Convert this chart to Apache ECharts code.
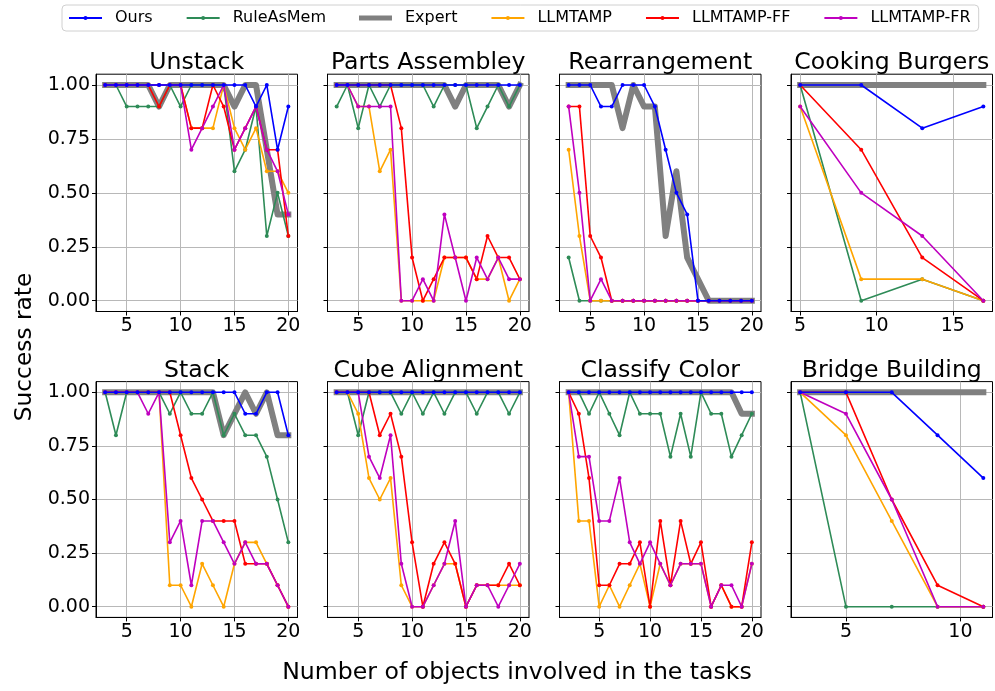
<!DOCTYPE html>
<html><head><meta charset="utf-8">
<script src="https://cdn.jsdelivr.net/npm/echarts@6/dist/echarts.min.js"></script>
<style>html,body{margin:0;padding:0;background:#fff}#c{width:995px;height:691px}</style>
</head><body><div id="c"></div>
<script>
const methodNames = ['Ours', 'RuleAsMem', 'Expert', 'LLMTAMP', 'LLMTAMP-FF', 'LLMTAMP-FR'];
const panelTitles = ['Unstack', 'Parts Assembley', 'Rearrangement', 'Cooking Burgers', 'Stack', 'Cube Alignment', 'Classify Color', 'Bridge Building'];
const yTicks = [0, 0.25, 0.5, 0.75, 1.0];
const xTicksWide = [5, 10, 15, 20];
const xTicksCook = [5, 10, 15];
const xTicksBridge = [5, 10];

// ---- Unstack ----
const xUnstack = [3, 4, 5, 6, 7, 8, 9, 10, 11, 12, 13, 14, 15, 16, 17, 18, 19, 20];
const unstackOurs = [1, 1, 1, 1, 1, 1, 1, 1, 1, 1, 1, 1, 1, 1, 0.9, 1, 0.7, 0.9];
const unstackRule = [1, 1, 0.9, 0.9, 0.9, 0.9, 1, 0.9, 1, 1, 1, 1, 0.6, 0.7, 0.9, 0.3, 0.5, 0.3];
const unstackExpert = [1, 1, 1, 1, 1, 0.9, 1, 1, 1, 1, 1, 1, 0.9, 1, 1, 0.7, 0.4, 0.4];
const unstackLLM = [1, 1, 1, 1, 1, 1, 1, 1, 0.8, 0.8, 0.8, 1, 0.8, 0.7, 0.8, 0.6, 0.6, 0.5];
const unstackFF = [1, 1, 1, 1, 1, 0.9, 1, 1, 0.8, 0.8, 1, 0.9, 0.7, 0.8, 0.9, 0.7, 0.7, 0.3];
const unstackFR = [1, 1, 1, 1, 1, 1, 1, 1, 0.7, 0.8, 0.9, 1, 0.7, 0.8, 0.9, 0.7, 0.6, 0.4];

// ---- Parts Assembley ----
const xParts = [3, 4, 5, 6, 7, 8, 9, 10, 11, 12, 13, 14, 15, 16, 17, 18, 19, 20];
const partsOurs = [1, 1, 1, 1, 1, 1, 1, 1, 1, 1, 1, 1, 1, 1, 1, 1, 1, 1];
const partsRule = [0.9, 1, 0.8, 1, 0.9, 1, 1, 1, 1, 0.9, 1, 1, 1, 0.8, 0.9, 1, 0.9, 1];
const partsExpert = [1, 1, 1, 1, 1, 1, 1, 1, 1, 1, 1, 0.9, 1, 1, 1, 1, 0.9, 1];
const partsLLM = [1, 1, 0.9, 0.9, 0.6, 0.7, 0, 0, 0, 0, 0.2, 0.2, 0.2, 0.1, 0.1, 0.2, 0, 0.1];
const partsFF = [1, 1, 1, 1, 1, 1, 0.8, 0.2, 0, 0.1, 0.2, 0.2, 0.2, 0.1, 0.3, 0.2, 0.2, 0.1];
const partsFR = [1, 1, 0.9, 0.9, 0.9, 0.9, 0, 0, 0.1, 0, 0.4, 0.2, 0, 0.2, 0.1, 0.2, 0.1, 0.1];

// ---- Rearrangement ----
const xRearr = [3, 4, 5, 6, 7, 8, 9, 10, 11, 12, 13, 14, 15, 16, 17, 18, 19, 20];
const rearrOurs = [1, 1, 1, 0.9, 0.9, 1, 1, 1, 0.9, 0.7, 0.5, 0.4, 0, 0, 0, 0, 0, 0];
const rearrRule = [0.2, 0, 0, 0, 0, 0, 0, 0, 0, 0, 0, 0, 0, 0, 0, 0, 0, 0];
const rearrExpert = [1, 1, 1, 1, 1, 0.8, 1, 0.9, 0.9, 0.3, 0.6, 0.2, 0.1, 0, 0, 0, 0, 0];
const rearrLLM = [0.7, 0.3, 0, 0, 0, 0, 0, 0, 0, 0, 0, 0, 0, 0, 0, 0, 0, 0];
const rearrFF = [0.9, 0.9, 0.3, 0.2, 0, 0, 0, 0, 0, 0, 0, 0, 0, 0, 0, 0, 0, 0];
const rearrFR = [0.9, 0.5, 0, 0.1, 0, 0, 0, 0, 0, 0, 0, 0, 0, 0, 0, 0, 0, 0];

// ---- Cooking Burgers ----
const xCook = [5, 9, 13, 17];
const cookOurs = [1, 1, 0.8, 0.9];
const cookRule = [1, 0, 0.1, 0];
const cookExpert = [1, 1, 1, 1];
const cookLLM = [0.9, 0.1, 0.1, 0];
const cookFF = [1, 0.7, 0.2, 0];
const cookFR = [0.9, 0.5, 0.3, 0];

// ---- Stack ----
const xStack = [3, 4, 5, 6, 7, 8, 9, 10, 11, 12, 13, 14, 15, 16, 17, 18, 19, 20];
const stackOurs = [1, 1, 1, 1, 1, 1, 1, 1, 1, 1, 1, 1, 1, 0.9, 0.9, 1, 1, 0.8];
const stackRule = [1, 0.8, 1, 1, 1, 1, 0.9, 1, 0.9, 0.9, 1, 0.8, 0.9, 0.8, 0.8, 0.7, 0.5, 0.3];
const stackExpert = [1, 1, 1, 1, 1, 1, 1, 1, 1, 1, 1, 0.8, 0.9, 1, 0.9, 1, 0.8, 0.8];
const stackLLM = [1, 1, 1, 1, 1, 1, 0.1, 0.1, 0, 0.2, 0.1, 0, 0.2, 0.3, 0.3, 0.2, 0.1, 0];
const stackFF = [1, 1, 1, 1, 1, 1, 1, 0.8, 0.6, 0.5, 0.4, 0.4, 0.4, 0.2, 0.2, 0.2, 0.1, 0];
const stackFR = [1, 1, 1, 1, 0.9, 1, 0.3, 0.4, 0.1, 0.4, 0.4, 0.3, 0.2, 0.3, 0.2, 0.2, 0.1, 0];

// ---- Cube Alignment ----
const xCube = [3, 4, 5, 6, 7, 8, 9, 10, 11, 12, 13, 14, 15, 16, 17, 18, 19, 20];
const cubeOurs = [1, 1, 1, 1, 1, 1, 1, 1, 1, 1, 1, 1, 1, 1, 1, 1, 1, 1];
const cubeRule = [1, 1, 0.8, 1, 1, 1, 0.9, 1, 0.9, 1, 0.9, 1, 1, 0.9, 1, 1, 0.9, 1];
const cubeExpert = [1, 1, 1, 1, 1, 1, 1, 1, 1, 1, 1, 1, 1, 1, 1, 1, 1, 1];
const cubeLLM = [1, 1, 0.9, 0.6, 0.5, 0.6, 0.1, 0, 0, 0.1, 0.2, 0.2, 0, 0.1, 0.1, 0.1, 0.1, 0.1];
const cubeFF = [1, 1, 1, 1, 0.8, 0.9, 0.7, 0.3, 0, 0.2, 0.3, 0.2, 0, 0.1, 0.1, 0.1, 0.2, 0.1];
const cubeFR = [1, 1, 1, 0.7, 0.6, 0.8, 0.2, 0, 0, 0.1, 0.2, 0.4, 0, 0.1, 0.1, 0, 0.1, 0.2];

// ---- Classify Color ----
const xColor = [2, 3, 4, 5, 6, 7, 8, 9, 10, 11, 12, 13, 14, 15, 16, 17, 18, 19, 20];
const colorOurs = [1, 1, 1, 1, 1, 1, 1, 1, 1, 1, 1, 1, 1, 1, 1, 1, 1, 1, 1];
const colorRule = [1, 1, 0.9, 1, 0.9, 0.8, 1, 0.9, 0.9, 0.9, 0.7, 0.9, 0.7, 1, 0.9, 0.9, 0.7, 0.8, 0.9];
const colorExpert = [1, 1, 1, 1, 1, 1, 1, 1, 1, 1, 1, 1, 1, 1, 1, 1, 1, 0.9, 0.9];
const colorLLM = [1, 0.4, 0.4, 0, 0.1, 0, 0.1, 0.2, 0, 0.2, 0.1, 0.2, 0.2, 0.2, 0, 0.1, 0, 0, 0.2];
const colorFF = [1, 0.9, 0.6, 0.1, 0.1, 0.2, 0.2, 0.3, 0, 0.4, 0.1, 0.4, 0.2, 0.3, 0, 0.1, 0, 0, 0.3];
const colorFR = [1, 0.7, 0.7, 0.4, 0.4, 0.6, 0.3, 0.2, 0.3, 0.2, 0.1, 0.2, 0.2, 0.2, 0, 0.1, 0.1, 0, 0.2];

// ---- Bridge Building ----
const xBridge = [3, 5, 7, 9, 11];
const bridgeOurs = [1, 1, 1, 0.8, 0.6];
const bridgeRule = [1, 0, 0, 0, 0];
const bridgeExpert = [1, 1, 1, 1, 1];
const bridgeLLM = [1, 0.8, 0.4, 0, 0];
const bridgeFF = [1, 1, 0.5, 0.1, 0];
const bridgeFR = [1, 0.9, 0.5, 0, 0];

const panels = [
  { x: xUnstack, ticks: xTicksWide, ys: [unstackOurs, unstackRule, unstackExpert, unstackLLM, unstackFF, unstackFR] },
  { x: xParts, ticks: xTicksWide, ys: [partsOurs, partsRule, partsExpert, partsLLM, partsFF, partsFR] },
  { x: xRearr, ticks: xTicksWide, ys: [rearrOurs, rearrRule, rearrExpert, rearrLLM, rearrFF, rearrFR] },
  { x: xCook, ticks: xTicksCook, ys: [cookOurs, cookRule, cookExpert, cookLLM, cookFF, cookFR] },
  { x: xStack, ticks: xTicksWide, ys: [stackOurs, stackRule, stackExpert, stackLLM, stackFF, stackFR] },
  { x: xCube, ticks: xTicksWide, ys: [cubeOurs, cubeRule, cubeExpert, cubeLLM, cubeFF, cubeFR] },
  { x: xColor, ticks: xTicksWide, ys: [colorOurs, colorRule, colorExpert, colorLLM, colorFF, colorFR] },
  { x: xBridge, ticks: xTicksBridge, ys: [bridgeOurs, bridgeRule, bridgeExpert, bridgeLLM, bridgeFF, bridgeFR] }
];

const colors = ['#0000ff', '#2e8b57', '#808080', '#ffa500', '#ff0000', '#bf00bf'];
const FONT = 'DejaVu Sans';
const colLeft = [96, 327.5, 559.5, 791];
const colW = 201.5;
const rowTop = [74.2, 381.6];
const rowH = [237.3, 235.8];

const grids = [], xAxes = [], yAxes = [], series = [], graphics = [];
panels.forEach((p, i) => {
  const r = Math.floor(i / 4), c = i % 4;
  grids.push({ left: colLeft[c], top: rowTop[r], width: colW, height: rowH[r], show: true, borderColor: '#000', borderWidth: 1, backgroundColor: 'transparent', containLabel: false, outerBoundsMode: 'none' });
  const xmin = Math.min(...p.x), xmax = Math.max(...p.x), pad = (xmax - xmin) * 0.05;
  xAxes.push({
    type: 'value', gridIndex: i, min: xmin - pad, max: xmax + pad,
    axisLine: { show: true, onZero: false, lineStyle: { color: '#000', width: 1 } },
    axisTick: { show: true, length: 4, inside: false, customValues: p.ticks, lineStyle: { color: '#000' } },
    axisLabel: { show: true, customValues: p.ticks, fontSize: 19, fontFamily: FONT, color: '#000', margin: 5 },
    splitLine: { show: true, lineStyle: { color: '#b8b8b8', width: 1 } }
  });
  yAxes.push({
    type: 'value', gridIndex: i, min: -0.05, max: 1.05,
    axisLine: { show: true, onZero: false, lineStyle: { color: '#000', width: 1 } },
    axisTick: { show: true, length: 4, customValues: yTicks, lineStyle: { color: '#000' } },
    axisLabel: { show: c === 0, customValues: yTicks, fontSize: 19, fontFamily: FONT, color: '#000', margin: 6, formatter: v => v.toFixed(2) },
    splitLine: { show: true, lineStyle: { color: '#b8b8b8', width: 1 } }
  });
  const order = [2, 1, 3, 4, 5, 0];
  order.forEach(j => {
    const isExpert = j === 2;
    series.push({
      type: 'line', name: methodNames[j], xAxisIndex: i, yAxisIndex: i,
      data: p.x.map((xv, k) => [xv, p.ys[j][k]]),
      symbol: isExpert ? 'none' : 'circle', symbolSize: 4, showSymbol: !isExpert,
      itemStyle: { color: colors[j] },
      lineStyle: { color: colors[j], width: isExpert ? 6 : 1.6, cap: isExpert ? 'square' : 'butt', join: 'round' },
      z: isExpert ? 1 : (j === 0 ? 3 : 2),
      emphasis: { disabled: true }, silent: true, animation: false
    });
  });
  const cx = colLeft[c] + colW / 2;
  const ty = r === 0 ? 63 : 370.4;
  graphics.push({ type: 'text', x: cx, y: ty, style: { text: panelTitles[i], align: 'center', verticalAlign: 'middle', fontSize: 23.6, fontFamily: FONT, fill: '#000' } });
});
graphics.push({ type: 'text', x: 517, y: 673, style: { text: 'Number of objects involved in the tasks', align: 'center', verticalAlign: 'middle', fontSize: 23.6, fontFamily: FONT, fill: '#000' } });
graphics.push({ type: 'text', x: 25, y: 347, rotation: Math.PI / 2, style: { text: 'Success rate', align: 'center', verticalAlign: 'middle', fontSize: 23.3, fontFamily: FONT, fill: '#000' } });

const legendData = methodNames.map((n, j) => j === 2
  ? { name: n, icon: 'rect', itemStyle: { color: colors[j] } }
  : { name: n });

const chart = echarts.init(document.getElementById('c'), null, { renderer: 'canvas' });
chart.setOption({
  animation: false,
  backgroundColor: '#fff',
  legend: {
    data: legendData, left: 62, top: 5, orient: 'horizontal',
    itemWidth: 33, itemHeight: 5, itemGap: 33,
    padding: [5, 8, 5, 6],
    borderColor: '#d0d0d0', borderWidth: 1, borderRadius: 4, backgroundColor: '#fff',
    textStyle: { fontSize: 16, fontFamily: FONT, color: '#000', padding: [0, 0, 0, 8] },
    selectedMode: false
  },
  grid: grids, xAxis: xAxes, yAxis: yAxes, series: series, graphic: graphics
});
</script></body></html>
